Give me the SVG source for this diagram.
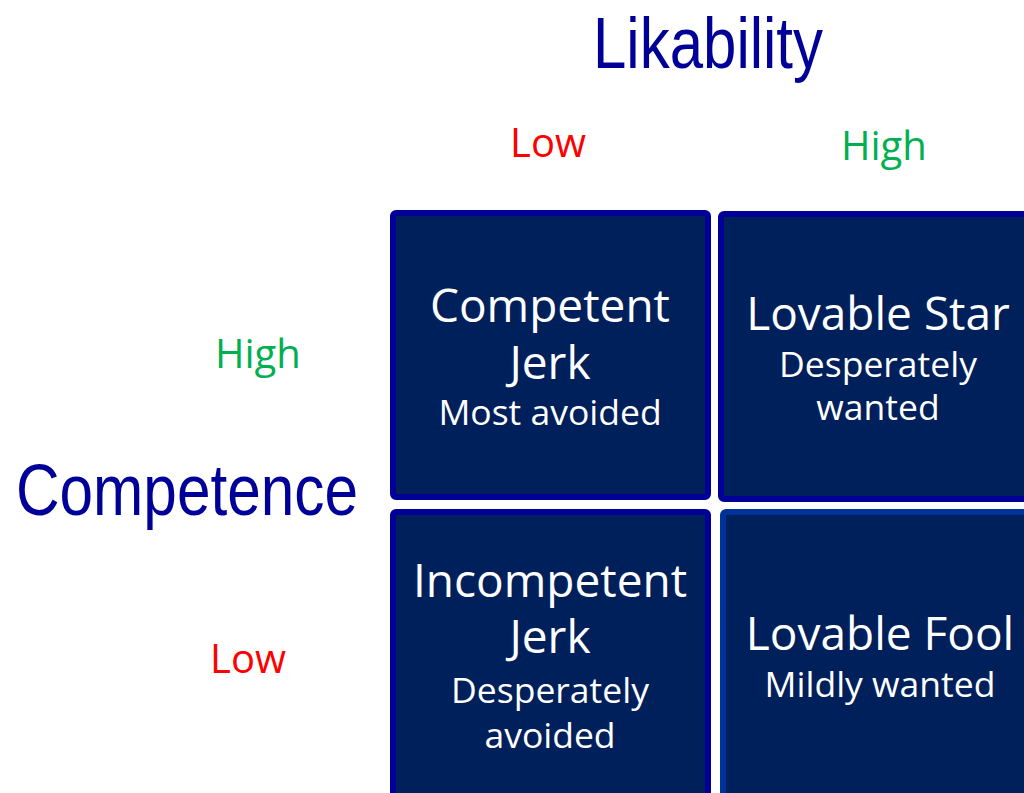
<svg xmlns="http://www.w3.org/2000/svg" width="1024" height="793" viewBox="0 0 1024 793">
<style>
.axis{font-family:"Liberation Sans Narrow","Liberation Sans",sans-serif;fill:#000099;font-size:73px}
.lvl{font-family:"Open Sans","Noto Sans",sans-serif;font-size:40px}
.red{fill:#FF0000}
.grn{fill:#00B050}
.box{fill:#00205B;stroke:#000099;stroke-width:6}
.t1{font-family:"Open Sans","Noto Sans",sans-serif;font-size:46px;fill:#FFFFFF;text-anchor:middle}
.t2{font-family:"Open Sans","Noto Sans",sans-serif;font-size:35.5px;fill:#FFFFFF;text-anchor:middle}
</style>
<rect width="1024" height="793" fill="#FFFFFF"/>
<g id="axis-labels">
<text class="axis" x="593" y="68" textLength="230" lengthAdjust="spacingAndGlyphs">Likability</text>
<text class="axis" x="16" y="515" textLength="342" lengthAdjust="spacingAndGlyphs">Competence</text>
<text class="lvl red" x="510" y="157">Low</text>
<text class="lvl grn" x="841" y="160">High</text>
<text class="lvl grn" x="215" y="368">High</text>
<text class="lvl red" x="210" y="673">Low</text>
</g>
<g id="competent-jerk">
<rect class="box" x="393" y="213" width="315" height="284" rx="3"/>
<text class="t1" x="550" y="322">Competent</text>
<text class="t1" x="550" y="379">Jerk</text>
<text class="t2" x="550" y="425">Most avoided</text>
</g>
<g id="lovable-star">
<rect class="box" x="721" y="214" width="320" height="285" rx="3"/>
<text class="t1" x="878" y="330">Lovable Star</text>
<text class="t2" x="878" y="377">Desperately</text>
<text class="t2" x="878" y="420">wanted</text>
</g>
<g id="incompetent-jerk">
<rect class="box" x="393" y="512" width="315" height="300" rx="3"/>
<text class="t1" x="550" y="597">Incompetent</text>
<text class="t1" x="550" y="653">Jerk</text>
<text class="t2" x="550" y="703">Desperately</text>
<text class="t2" x="550" y="748">avoided</text>
</g>
<g id="lovable-fool">
<rect class="box" x="723" y="512" width="320" height="300" rx="3" style="stroke:#003399"/>
<text class="t1" x="880" y="650">Lovable Fool</text>
<text class="t2" x="880" y="697">Mildly wanted</text>
</g>
<g id="connectors"/>
</svg>
